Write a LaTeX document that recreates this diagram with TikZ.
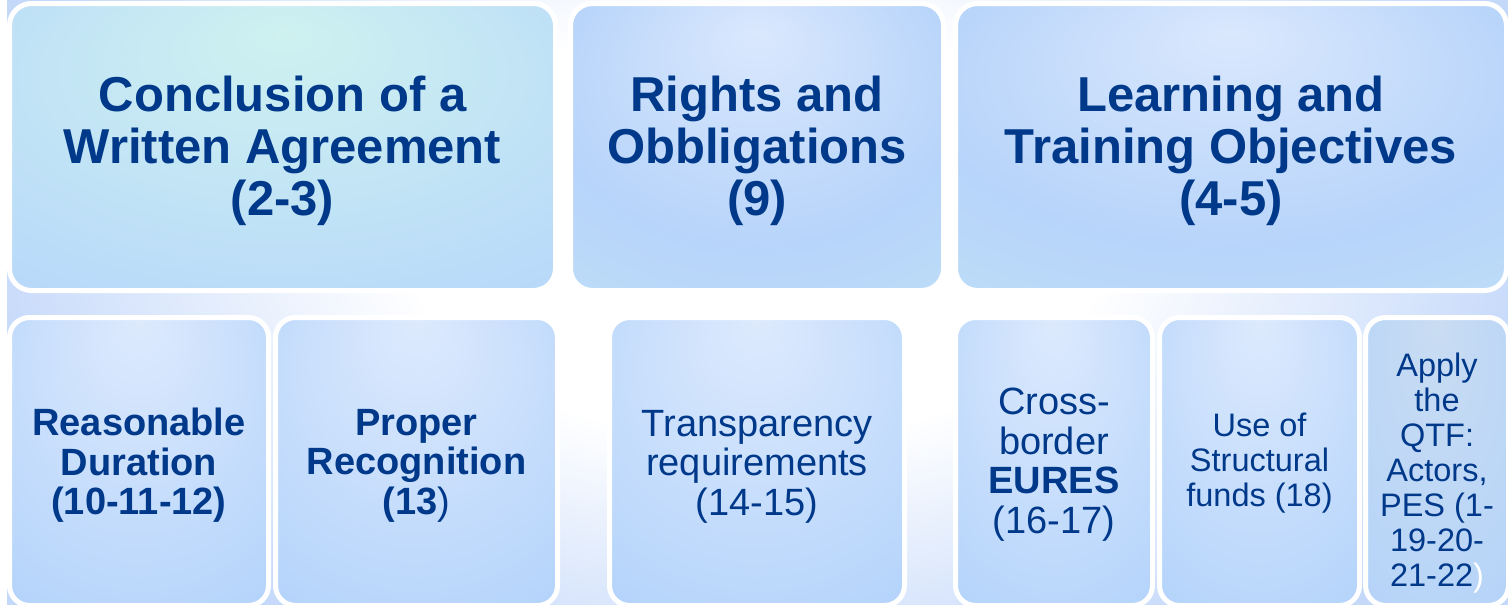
\documentclass[tikz,border=0pt]{standalone}
\usepackage{fontspec}
\setmainfont{Liberation Sans}
\definecolor{navy}{HTML}{00388A}
\definecolor{bgblue}{HTML}{C4D8FA}
\definecolor{cA1}{HTML}{CEF2F0}
\definecolor{cA2}{HTML}{C0E2F6}
\definecolor{cA3}{HTML}{B5D5FB}
\definecolor{cB1}{HTML}{DAE8FD}
\definecolor{cB2}{HTML}{B7D4FA}
\definecolor{cB3}{HTML}{BEDFF7}
\definecolor{cC1}{HTML}{DDEAFD}
\definecolor{cC2}{HTML}{B5D4FB}
\definecolor{cD1}{HTML}{C9DCF2}
\definecolor{cD2}{HTML}{B6D4F8}
\pgfdeclareradialshading{bgshade}{\pgfpoint{0bp}{0bp}}{color(0bp)=(white); color(11bp)=(white); color(25bp)=(bgblue); color(50bp)=(bgblue)}
\pgfdeclareradialshading{shA}{\pgfpoint{0bp}{20bp}}{color(0bp)=(cA1); color(25bp)=(cA2); color(45bp)=(cA3); color(60bp)=(cA3)}
\pgfdeclareradialshading{shB}{\pgfpoint{0bp}{20bp}}{color(0bp)=(cB1); color(28bp)=(cB2); color(45bp)=(cB3); color(60bp)=(cB3)}
\pgfdeclareradialshading{shC}{\pgfpoint{0bp}{25bp}}{color(0bp)=(cC1); color(40bp)=(cC2); color(60bp)=(cC2)}
\pgfdeclareradialshading{shD}{\pgfpoint{0bp}{25bp}}{color(0bp)=(cD1); color(40bp)=(cD2); color(60bp)=(cD2)}
\tikzset{
  topbox/.style={draw=white, line width=5pt, rounded corners=22pt, inner sep=0pt,
    minimum height=287pt},
  botbox/.style={draw=white, line width=5pt, rounded corners=20pt, inner sep=0pt,
    minimum height=288pt},
  toptxt/.style={text=navy, align=center, inner sep=0pt,
    font=\fontsize{49}{52}\selectfont\bfseries},
  bigtxt/.style={text=navy, align=center, inner sep=0pt,
    font=\fontsize{38}{39.5}\selectfont},
  smalltxt/.style={text=navy, align=center, inner sep=0pt,
    font=\fontsize{32.5}{35}\selectfont}
}
\begin{document}
\begin{tikzpicture}[x=1pt,y=-1pt]
\useasboundingbox (0,0) rectangle (1508,605);
% background
\fill[bgblue] (7,0) rectangle (1508,605);
\begin{scope}
  \clip (7,0) rectangle (1508,605);
  \shade[shading=bgshade] (757,230) ellipse [x radius=800pt, y radius=480pt];
\end{scope}
% top row boxes
\node[topbox, shading=shA, minimum width=546pt] (concl) at (282.5,147) {};
\node[topbox, shading=shB, minimum width=373pt] (rights) at (757,147) {};
\node[topbox, shading=shB, minimum width=551pt] (learn) at (1231,147) {};
% bottom row boxes
\node[botbox, shading=shC, minimum width=259pt] (dur) at (139,461.5) {};
\node[botbox, shading=shC, minimum width=282pt] (recog) at (416.5,461.5) {};
\node[botbox, shading=shC, minimum width=295pt] (transp) at (757,461.5) {};
\node[botbox, shading=shC, minimum width=197pt] (eures) at (1054,461.5) {};
\node[botbox, shading=shC, minimum width=200pt] (funds) at (1259.5,461.5) {};
\node[botbox, shading=shD, minimum width=143pt] (qtf) at (1437,461.5) {};
% texts
\node[toptxt] (conclT) at ([yshift=-4pt]concl.center)
  {Conclusion of a\\Written Agreement\\(2-3)};
\node[toptxt] (rightsT) at ([yshift=-4pt]rights.center)
  {Rights and\\Obbligations\\(9)};
\node[toptxt] (learnT) at ([yshift=-4pt]learn.center)
  {Learning and\\Training Objectives\\(4-5)};
\node[bigtxt] (durT) at ([yshift=-4pt]dur.center)
  {\bfseries Reasonable\\\bfseries Duration\\\bfseries (10-11-12)};
\node[bigtxt] (recogT) at ([yshift=-4pt]recog.center)
  {\bfseries Proper\\\bfseries Recognition\\\textbf{(13}\textmd{)}};
\node[bigtxt] (transpT) at ([yshift=-5pt]transp.center)
  {Transparency\\requirements\\(14-15)};
\node[bigtxt] (euresT) at ([yshift=-3pt]eures.center)
  {Cross-\\border\\\textbf{EURES}\\(16-17)};
\node[smalltxt] (fundsT) at ([yshift=-2pt]funds.center)
  {Use of\\Structural\\funds (18)};
\node[smalltxt] (qtfT) at ([yshift=-12pt]qtf.center)
  {Apply\\the\\QTF:\\Actors,\\PES (1-\\19-20-\\21-22\textcolor{white}{)}};
\end{tikzpicture}
\end{document}
